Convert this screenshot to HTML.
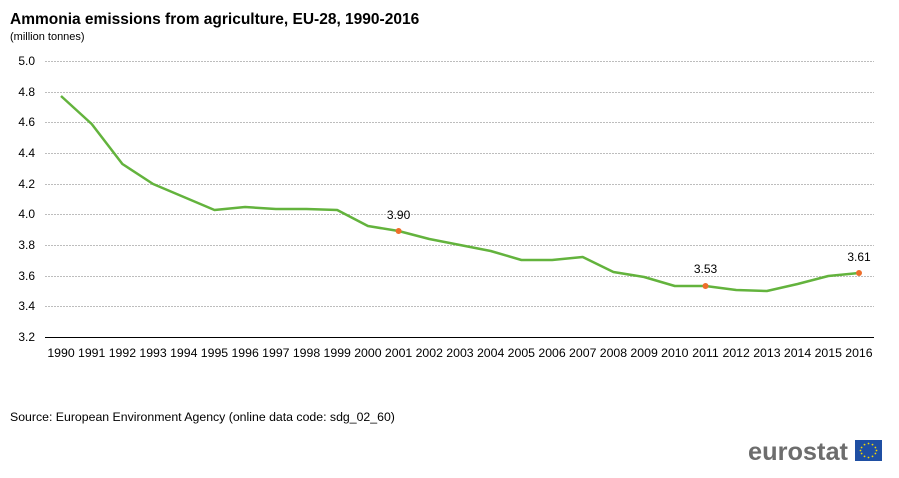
<!DOCTYPE html><html><head><style>body{margin:0;background:#fff}svg{display:block}</style></head><body>
<svg width="899" height="478" xmlns="http://www.w3.org/2000/svg" font-family="Liberation Sans, sans-serif">
<text x="10" y="24" font-size="15.5" font-weight="bold" fill="#000">Ammonia emissions from agriculture, EU-28, 1990-2016</text>
<text x="10" y="40" font-size="11" fill="#000">(million tonnes)</text>
<g stroke="#bdbdbd" stroke-dasharray="2,1" stroke-width="1">
<line x1="45" x2="874" y1="61.5" y2="61.5"/><line x1="45" x2="874" y1="92.5" y2="92.5"/><line x1="45" x2="874" y1="122.5" y2="122.5"/><line x1="45" x2="874" y1="153.5" y2="153.5"/><line x1="45" x2="874" y1="184.5" y2="184.5"/><line x1="45" x2="874" y1="214.5" y2="214.5"/><line x1="45" x2="874" y1="245.5" y2="245.5"/><line x1="45" x2="874" y1="276.5" y2="276.5"/><line x1="45" x2="874" y1="306.5" y2="306.5"/></g>
<line x1="45" x2="874" y1="337.5" y2="337.5" stroke="#000"/>
<g font-size="12" fill="#000" text-anchor="end">
<text x="35" y="65">5.0</text><text x="35" y="96">4.8</text><text x="35" y="126">4.6</text><text x="35" y="157">4.4</text><text x="35" y="188">4.2</text><text x="35" y="218">4.0</text><text x="35" y="249">3.8</text><text x="35" y="280">3.6</text><text x="35" y="310">3.4</text><text x="35" y="341">3.2</text></g>
<g font-size="12.3" fill="#000" text-anchor="middle" id="xl"></g>
<polyline fill="none" stroke="#63b33d" stroke-width="2.5" stroke-linejoin="round" points="61,96 91.7,124 122.4,164 153.1,184 183.8,197 214.5,210 245.1,207 275.8,209 306.5,209 337.2,210 367.9,226 398.6,231 429.3,239 460,245 490.7,251 521.4,260 552.1,260 582.7,257 613.4,272 644.1,277 674.8,286 705.5,286 736.2,290 766.9,291 797.6,284 828.3,276 859,273"/>
<g fill="#ee6e2a"><circle cx="398.6" cy="231" r="3"/><circle cx="705.5" cy="286" r="3"/><circle cx="859" cy="273" r="3"/></g>
<g font-size="12" text-anchor="middle"><text x="398.6" y="219">3.90</text><text x="705.5" y="273">3.53</text><text x="859" y="261">3.61</text></g>
<text x="10" y="421" font-size="12.3">Source: European Environment Agency (online data code: sdg_02_60)</text>
<text x="748" y="460" font-size="25" font-weight="bold" fill="#6d6d6d" textLength="100" lengthAdjust="spacingAndGlyphs">eurostat</text>
<rect x="855" y="440" width="27" height="21" fill="#1f4fa3"/>
<g fill="#f5d800"><circle cx="868.5" cy="443.5" r="0.9"/><circle cx="872.5" cy="444.6" r="0.9"/><circle cx="875.4" cy="447.5" r="0.9"/><circle cx="876.5" cy="450.5" r="0.9"/><circle cx="875.4" cy="453.5" r="0.9"/><circle cx="872.5" cy="456.4" r="0.9"/><circle cx="868.5" cy="457.5" r="0.9"/><circle cx="864.5" cy="456.4" r="0.9"/><circle cx="861.6" cy="453.5" r="0.9"/><circle cx="860.5" cy="450.5" r="0.9"/><circle cx="861.6" cy="447.5" r="0.9"/><circle cx="864.5" cy="444.6" r="0.9"/></g>
</svg>
<script>
var g=document.getElementById('xl'),s='';
for(var i=0;i<27;i++){s+='<text x="'+(61+30.69*i)+'" y="357">'+(1990+i)+'</text>';}
g.innerHTML=s;
</script>
</body></html>
